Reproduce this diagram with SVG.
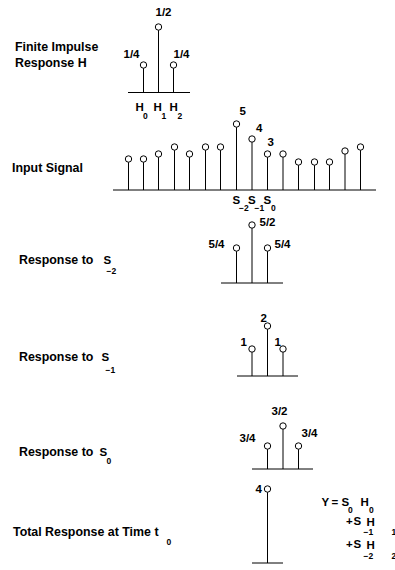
<svg xmlns="http://www.w3.org/2000/svg" width="395" height="570" viewBox="0 0 395 570">
<style>
text{font-family:"Liberation Sans",Arial,sans-serif;font-weight:bold;fill:#000}
.lb{font-size:12.4px}
.n{font-size:11.5px}
.sb{font-size:8.5px}
.ax{stroke:#000;stroke-width:1}
.st{stroke:#000;stroke-width:1}
.pt{fill:#fff;stroke:#000;stroke-width:1}
</style>
<rect width="395" height="570" fill="#fff"/>
<g id="fir">
<text class="lb" x="15" y="51">Finite Impulse</text>
<text class="lb" x="15" y="67">Response H</text>
<line class="ax" x1="128" y1="92.5" x2="190" y2="92.5"/>
<line class="st" x1="143.5" y1="68" x2="143.5" y2="92.5"/>
<line class="st" x1="158.5" y1="30" x2="158.5" y2="92.5"/>
<line class="st" x1="173.5" y1="68" x2="173.5" y2="92.5"/>
<circle class="pt" cx="143.5" cy="65" r="3.2"/>
<circle class="pt" cx="158.5" cy="27" r="3.2"/>
<circle class="pt" cx="173.5" cy="65" r="3.2"/>
<text class="n" x="155.5" y="16">1/2</text>
<text class="n" x="123.5" y="58">1/4</text>
<text class="n" x="173.5" y="58">1/4</text>
<text class="n" x="135.5" y="111">H</text><text class="sb" x="143" y="119">0</text>
<text class="n" x="153.5" y="111">H</text><text class="sb" x="161.5" y="119">1</text>
<text class="n" x="169.5" y="111">H</text><text class="sb" x="177.5" y="119">2</text>
</g>
<g id="input">
<text class="lb" x="12" y="172">Input Signal</text>
<line class="ax" x1="113" y1="190" x2="376" y2="190"/>
<g class="st">
<line x1="128.5" y1="162" x2="128.5" y2="190"/>
<line x1="143.5" y1="162" x2="143.5" y2="190"/>
<line x1="158.5" y1="157" x2="158.5" y2="190"/>
<line x1="174.5" y1="150" x2="174.5" y2="190"/>
<line x1="189.5" y1="157" x2="189.5" y2="190"/>
<line x1="205.5" y1="150" x2="205.5" y2="190"/>
<line x1="220.5" y1="150" x2="220.5" y2="190"/>
<line x1="236.5" y1="127" x2="236.5" y2="190"/>
<line x1="252" y1="142" x2="252" y2="190"/>
<line x1="267.5" y1="157" x2="267.5" y2="190"/>
<line x1="283" y1="157" x2="283" y2="190"/>
<line x1="298.5" y1="165" x2="298.5" y2="190"/>
<line x1="314.5" y1="165" x2="314.5" y2="190"/>
<line x1="329.5" y1="165" x2="329.5" y2="190"/>
<line x1="345" y1="154" x2="345" y2="190"/>
<line x1="360.5" y1="150" x2="360.5" y2="190"/>
</g>
<circle class="pt" cx="128.5" cy="159" r="3.2"/>
<circle class="pt" cx="143.5" cy="159" r="3.2"/>
<circle class="pt" cx="158.5" cy="154" r="3.2"/>
<circle class="pt" cx="174.5" cy="147" r="3.2"/>
<circle class="pt" cx="189.5" cy="154" r="3.2"/>
<circle class="pt" cx="205.5" cy="147" r="3.2"/>
<circle class="pt" cx="220.5" cy="147" r="3.2"/>
<circle class="pt" cx="236.5" cy="124" r="3.2"/>
<circle class="pt" cx="252" cy="139" r="3.2"/>
<circle class="pt" cx="267.5" cy="154" r="3.2"/>
<circle class="pt" cx="283" cy="154" r="3.2"/>
<circle class="pt" cx="298.5" cy="162" r="3.2"/>
<circle class="pt" cx="314.5" cy="162" r="3.2"/>
<circle class="pt" cx="329.5" cy="162" r="3.2"/>
<circle class="pt" cx="345" cy="151" r="3.2"/>
<circle class="pt" cx="360.5" cy="147" r="3.2"/>
<text class="n" x="239.5" y="115">5</text>
<text class="n" x="256" y="132">4</text>
<text class="n" x="267.5" y="146">3</text>
<text class="n" x="232.5" y="204">S</text><text class="sb" x="239" y="211">−2</text>
<text class="n" x="248" y="204">S</text><text class="sb" x="254.5" y="211">−1</text>
<text class="n" x="263.5" y="204">S</text><text class="sb" x="271" y="211">0</text>
</g>
<g id="resp-s-2">
<text class="lb" x="19" y="264">Response to</text>
<text class="n" x="103.5" y="263.5">S</text><text class="sb" x="106.5" y="273.5">−2</text>
<line class="ax" x1="221" y1="283" x2="283" y2="283"/>
<line class="st" x1="236.5" y1="251" x2="236.5" y2="283"/>
<line class="st" x1="252" y1="228" x2="252" y2="283"/>
<line class="st" x1="267.5" y1="251" x2="267.5" y2="283"/>
<circle class="pt" cx="236.5" cy="248" r="3.2"/>
<circle class="pt" cx="252" cy="225" r="3.2"/>
<circle class="pt" cx="267.5" cy="248" r="3.2"/>
<text class="n" x="208.5" y="248">5/4</text>
<text class="n" x="259.5" y="226">5/2</text>
<text class="n" x="274.5" y="248">5/4</text>
</g>
<g id="resp-s-1">
<text class="lb" x="19" y="361">Response to</text>
<text class="n" x="101.5" y="361">S</text><text class="sb" x="105.5" y="373">−1</text>
<line class="ax" x1="237" y1="376" x2="298" y2="376"/>
<line class="st" x1="252" y1="352" x2="252" y2="376"/>
<line class="st" x1="267.5" y1="329" x2="267.5" y2="376"/>
<line class="st" x1="283" y1="352" x2="283" y2="376"/>
<circle class="pt" cx="252" cy="349" r="3.2"/>
<circle class="pt" cx="267.5" cy="326" r="3.2"/>
<circle class="pt" cx="283" cy="349" r="3.2"/>
<text class="n" x="240.5" y="346">1</text>
<text class="n" x="260.5" y="322">2</text>
<text class="n" x="274.5" y="346">1</text>
</g>
<g id="resp-s0">
<text class="lb" x="19" y="456">Response to</text>
<text class="n" x="99.5" y="456">S</text><text class="sb" x="106.5" y="463.5">0</text>
<line class="ax" x1="252" y1="469" x2="313" y2="469"/>
<line class="st" x1="267.5" y1="449" x2="267.5" y2="469"/>
<line class="st" x1="283" y1="429" x2="283" y2="469"/>
<line class="st" x1="298.5" y1="449" x2="298.5" y2="469"/>
<circle class="pt" cx="267.5" cy="446" r="3.2"/>
<circle class="pt" cx="283" cy="426" r="3.2"/>
<circle class="pt" cx="298.5" cy="446" r="3.2"/>
<text class="n" x="239.5" y="442">3/4</text>
<text class="n" x="271.5" y="415">3/2</text>
<text class="n" x="301.5" y="437">3/4</text>
</g>
<g id="total">
<text class="lb" x="13" y="536">Total Response at Time t</text>
<text class="sb" x="166.5" y="545">0</text>
<line class="ax" x1="252" y1="563" x2="283" y2="563"/>
<line class="st" x1="267.5" y1="492" x2="267.5" y2="563"/>
<circle class="pt" cx="267.5" cy="489" r="3.2"/>
<text class="n" x="255.5" y="493">4</text>
</g>
<g id="equation">
<text class="n" x="321.5" y="506">Y</text>
<text class="n" x="331.5" y="506">=</text>
<text class="n" x="341.5" y="506">S</text><text class="sb" x="348" y="513">0</text>
<text class="n" x="360.5" y="506">H</text><text class="sb" x="369" y="513">0</text>
<text class="n" x="346" y="525">+</text>
<text class="n" x="353.5" y="525">S</text>
<text class="n" x="366.5" y="526">H</text><text class="sb" x="363.5" y="535">−1</text><text class="sb" x="391.5" y="535">1</text>
<text class="n" x="346" y="548">+</text>
<text class="n" x="353.5" y="548">S</text>
<text class="n" x="366.5" y="549">H</text><text class="sb" x="363.5" y="559">−2</text><text class="sb" x="391.5" y="559">2</text>
</g>
</svg>
